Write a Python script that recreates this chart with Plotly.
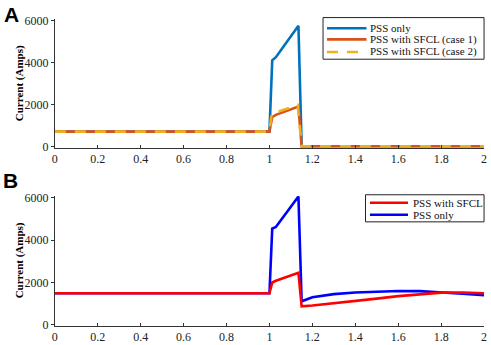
import plotly.graph_objects as go

# ---- data ----
t_A = [0.0, 1.0, 1.013, 1.03, 1.135, 1.15, 2.0]
pss_only_A = [700, 700, 4100, 4250, 5750, 0, 0]
sfcl_case1_A = [700, 700, 1400, 1500, 1900, 0, 0]
t_A2 = [0.0, 1.0, 1.01, 1.03, 1.132, 1.15, 2.0]
sfcl_case2_A = [700, 700, 1550, 1620, 1970, 0, 0]

t_B = [0.0, 1.0, 1.013, 1.03, 1.135, 1.15, 1.2, 1.25, 1.3, 1.4, 1.5, 1.6, 1.7, 1.8, 1.9, 2.0]
pss_only_B = [1480, 1480, 4550, 4620, 6070, 1100, 1290, 1380, 1440, 1515, 1570, 1590, 1580, 1530, 1460, 1390]
pss_sfcl_B = [1480, 1480, 1990, 2070, 2450, 860, 900, 950, 1010, 1100, 1225, 1345, 1440, 1510, 1515, 1480]

x_ticks = [0, 0.2, 0.4, 0.6, 0.8, 1, 1.2, 1.4, 1.6, 1.8, 2]
x_tick_labels = ["0", "0.2", "0.4", "0.6", "0.8", "1", "1.2", "1.4", "1.6", "1.8", "2"]
y_ticks = [0, 2000, 4000, 6000]

names_A = ["PSS only", "PSS with SFCL (case 1)", "PSS with SFCL (case 2)"]
names_B = ["PSS with SFCL", "PSS only"]

W, H = 491, 345
SERIF = "Liberation Serif, Times New Roman, serif"
SANS = "Liberation Sans, Arial, sans-serif"

C_BLUE_A, C_ORANGE, C_YELLOW = "#0072BD", "#D95319", "#EDB120"
C_RED, C_BLUE_B = "#FF0000", "#0000FF"
LW = 2.6
DASH = "11px,9px"


def px_x(p):
    return p / W


def px_y(p):
    return 1 - p / H


def ydom(top_px, bottom_px, lo, hi, vmin, vmax):
    scale = (bottom_px - top_px) / (hi - lo)
    ytop = top_px - (vmax - hi) * scale
    ybot = bottom_px + (lo - vmin) * scale
    return [1 - ybot / H, 1 - ytop / H]


YMIN, YMAX = -60, 6090
domA = ydom(16, 146, 0, 6000, YMIN, YMAX)
domB = ydom(199.3, 330, 0, 6000, YMIN, YMAX)
xdom = [52.5 / W, 487 / W]

fig = go.Figure()
# Panel A
fig.add_trace(go.Scatter(x=t_A, y=pss_only_A, mode="lines", name=names_A[0],
                         line=dict(color=C_BLUE_A, width=LW), xaxis="x", yaxis="y"))
fig.add_trace(go.Scatter(x=t_A, y=sfcl_case1_A, mode="lines", name=names_A[1],
                         line=dict(color=C_ORANGE, width=LW), xaxis="x", yaxis="y"))
fig.add_trace(go.Scatter(x=t_A2, y=sfcl_case2_A, mode="lines", name=names_A[2],
                         line=dict(color=C_YELLOW, width=LW, dash=DASH), xaxis="x", yaxis="y"))
# Panel B
fig.add_trace(go.Scatter(x=t_B, y=pss_only_B, mode="lines", name=names_B[1],
                         line=dict(color=C_BLUE_B, width=LW), xaxis="x2", yaxis="y2"))
fig.add_trace(go.Scatter(x=t_B, y=pss_sfcl_B, mode="lines", name=names_B[0],
                         line=dict(color=C_RED, width=LW), xaxis="x2", yaxis="y2"))

axis_common = dict(showgrid=False, zeroline=False, showline=True, linecolor="#333333", linewidth=1,
                   tickcolor="#333333", tickfont=dict(family=SERIF, size=12, color="#222222"))

shapes = []
annotations = []


def add_legend(box, rows, line_x, text_x, entries):
    x0, y0, x1, y1 = box
    shapes.append(dict(type="rect", xref="paper", yref="paper",
                       x0=px_x(x0), x1=px_x(x1), y0=px_y(y1), y1=px_y(y0),
                       line=dict(color="#222222", width=1), fillcolor="white", layer="above"))
    for (name, color, dash), yr in zip(entries, rows):
        shapes.append(dict(type="line", xref="paper", yref="paper",
                           x0=px_x(line_x[0]), x1=px_x(line_x[1]), y0=px_y(yr), y1=px_y(yr),
                           line=dict(color=color, width=LW, dash=dash), layer="above"))
        annotations.append(dict(text=name, x=px_x(text_x), y=px_y(yr), xref="paper", yref="paper",
                                xanchor="left", yanchor="middle", showarrow=False,
                                font=dict(family=SERIF, size=11, color="#111111")))


add_legend((324, 13, 487, 56), [24, 35.5, 48.5], (328, 368), 370,
           [(names_A[0], C_BLUE_A, "solid"), (names_A[1], C_ORANGE, "solid"),
            (names_A[2], C_YELLOW, DASH)])
add_legend((367, 196, 487, 224), [204.3, 216.7], (371.5, 410), 413,
           [(names_B[0], C_RED, "solid"), (names_B[1], C_BLUE_B, "solid")])

annotations += [
    dict(text="<b>A</b>", x=px_x(9), y=px_y(10), xref="paper", yref="paper",
         xanchor="center", yanchor="middle", showarrow=False,
         font=dict(family=SANS, size=21, color="black")),
    dict(text="<b>B</b>", x=px_x(8), y=px_y(181), xref="paper", yref="paper",
         xanchor="center", yanchor="middle", showarrow=False,
         font=dict(family=SANS, size=21, color="black")),
    dict(text="<b>Current (Amps)</b>", x=px_x(17), y=px_y(81), xref="paper", yref="paper",
         textangle=-90, showarrow=False, xanchor="center", yanchor="middle",
         font=dict(family=SERIF, size=11, color="black")),
    dict(text="<b>Current (Amps)</b>", x=px_x(17), y=px_y(264), xref="paper", yref="paper",
         textangle=-90, showarrow=False, xanchor="center", yanchor="middle",
         font=dict(family=SERIF, size=11, color="black")),
]

fig.update_layout(
    width=W, height=H,
    margin=dict(l=0, r=0, t=0, b=0),
    paper_bgcolor="white", plot_bgcolor="white",
    showlegend=False,
    xaxis=dict(domain=xdom, range=[0, 2], tickvals=x_ticks, ticktext=x_tick_labels,
               ticks="inside", ticklen=3, anchor="y", **axis_common),
    yaxis=dict(domain=domA, range=[YMIN, YMAX], tickvals=y_ticks, ticks="outside", ticklen=3,
               anchor="x", **axis_common),
    xaxis2=dict(domain=xdom, range=[0, 2], tickvals=x_ticks, ticktext=x_tick_labels,
                ticks="inside", ticklen=3, anchor="y2", **axis_common),
    yaxis2=dict(domain=domB, range=[YMIN, YMAX], tickvals=y_ticks, ticks="outside", ticklen=3,
                anchor="x2", **axis_common),
    shapes=shapes,
    annotations=annotations,
)

fig.write_html("out.html", config={"displayModeBar": False},
               post_script="document.body.style.margin='0';document.body.style.overflow='hidden';")
